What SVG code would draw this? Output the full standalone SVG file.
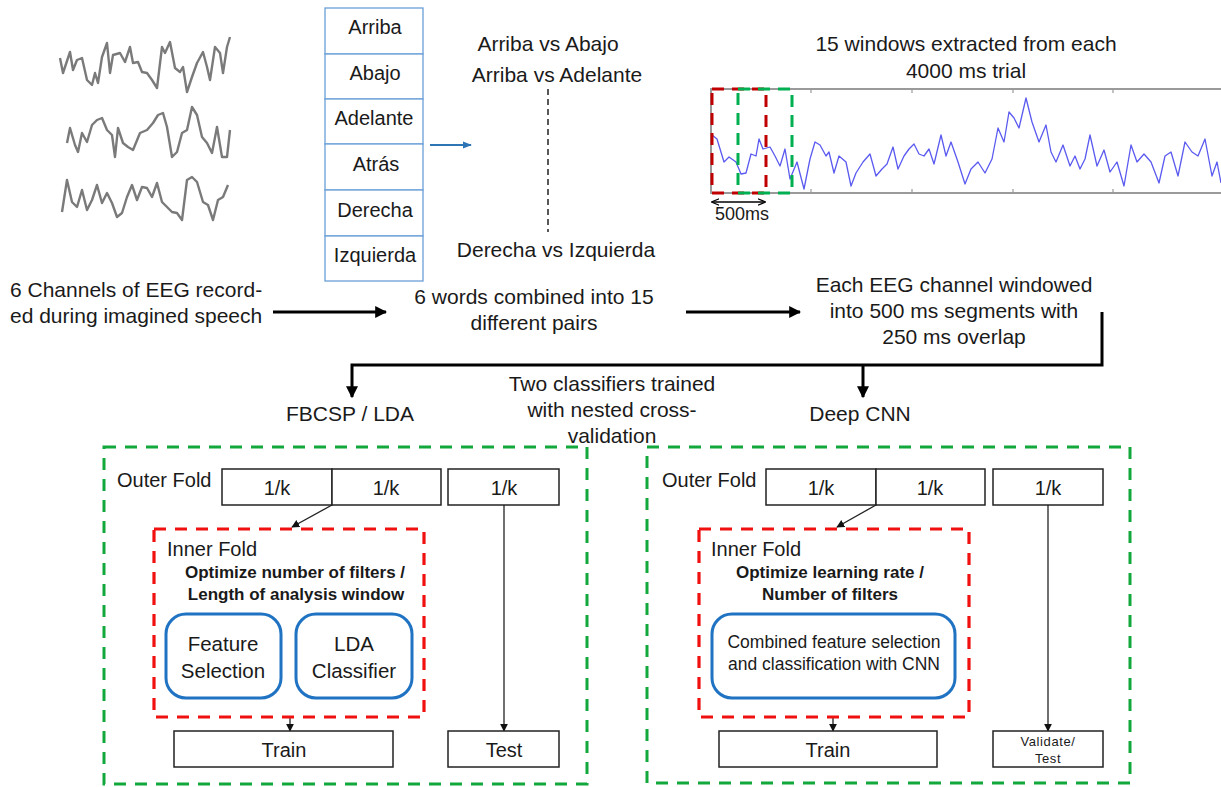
<svg xmlns="http://www.w3.org/2000/svg" width="1221" height="787" viewBox="0 0 1221 787">
<defs>
<style>
text{font-family:"Liberation Sans",Arial,sans-serif;fill:#1a1a1a}
.t19{font-size:21px}
.t18{font-size:20px}
.t20{font-size:20.5px}
.mid{text-anchor:middle}
.bold{font-weight:bold;font-size:17px}
.cell{fill:#fff;stroke:#6a9fd8;stroke-width:1.3}
.box{fill:#fff;stroke:#222;stroke-width:1.5}
.green{fill:none;stroke:#12a83c;stroke-width:3;stroke-dasharray:12 9}
.red{fill:none;stroke:#f01010;stroke-width:3.2;stroke-dasharray:12 9}
.rbox{fill:#fff;stroke:#1f73c2;stroke-width:3}
.eeg{fill:none;stroke:#7a7a7a;stroke-width:2.4;stroke-linejoin:round}
.thick{fill:none;stroke:#000;stroke-width:3}
.thin{fill:none;stroke:#222;stroke-width:1.3}
</style>
<marker id="ah" viewBox="0 0 10 10" refX="9" refY="5" markerWidth="4" markerHeight="4" orient="auto"><path d="M0,0 L10,5 L0,10 z" fill="#000"/></marker>
<marker id="as" viewBox="0 0 10 10" refX="9" refY="5" markerWidth="8" markerHeight="8" orient="auto" markerUnits="userSpaceOnUse"><path d="M0,0 L10,5 L0,10 z" fill="#111"/></marker>
<marker id="ab" viewBox="0 0 10 10" refX="9" refY="5" markerWidth="9" markerHeight="9" orient="auto" markerUnits="userSpaceOnUse"><path d="M0,1 L10,5 L0,9 z" fill="#2e75b6"/></marker>
<marker id="dm" viewBox="0 0 10 10" refX="9" refY="5" markerWidth="8" markerHeight="8" orient="auto-start-reverse" markerUnits="userSpaceOnUse"><path d="M0,1 L10,5 L0,9" fill="none" stroke="#000" stroke-width="1.6"/></marker>
</defs>

<g id="eeg-traces">
<polyline class="eeg" points="60,58 63,73 70,52 73,70 77,60 82,58 87,80 92,85 95,73 98,83 102,57 107,43 110,73 113,55 120,53 125,62 130,47 133,63 138,62 142,72 147,73 152,80 157,88 162,47 165,53 170,42 175,68 180,72 183,67 187,92 192,77 197,63 203,52 207,67 210,80 215,47 220,53 223,73 227,47 230,37"/>
<polyline class="eeg" points="67,143 70,128 75,145 78,152 82,133 87,142 92,125 97,120 102,118 107,130 112,135 115,157 118,128 123,143 128,147 133,150 140,133 147,130 153,123 158,115 163,113 167,127 172,157 177,152 182,133 187,130 192,107 197,115 202,137 207,143 212,153 217,127 222,157 227,157 230,130"/>
<polyline class="eeg" points="62,212 67,180 72,202 77,207 82,190 87,210 92,200 97,185 102,203 107,193 112,203 117,217 122,213 127,197 132,185 137,200 142,187 147,188 152,197 157,183 162,202 167,207 172,212 177,213 182,220 187,180 192,177 197,182 203,202 208,205 213,220 218,200 223,197 228,185"/>
</g>

<g id="word-list">
<rect class="cell" x="325" y="8" width="98" height="46"/>
<rect class="cell" x="325" y="54" width="98" height="45"/>
<rect class="cell" x="325" y="99" width="98" height="45"/>
<rect class="cell" x="325" y="144" width="98" height="46"/>
<rect class="cell" x="325" y="190" width="98" height="46"/>
<rect class="cell" x="325" y="236" width="98" height="45"/>
<text class="t18 mid" x="375" y="34">Arriba</text>
<text class="t18 mid" x="375" y="80">Abajo</text>
<text class="t18 mid" x="374" y="125">Adelante</text>
<text class="t18 mid" x="376" y="171">Atrás</text>
<text class="t18 mid" x="375" y="217">Derecha</text>
<text class="t18 mid" x="375" y="262">Izquierda</text>
</g>

<g id="pairs">
<text class="t19 mid" x="548" y="51">Arriba vs Abajo</text>
<text class="t19 mid" x="557" y="82">Arriba vs Adelante</text>
<line x1="548" y1="89" x2="548" y2="232" stroke="#222" stroke-width="1.5" stroke-dasharray="6 4"/>
<text class="t19 mid" x="556" y="257">Derecha vs Izquierda</text>
</g>

<g id="window-plot">
<text class="t19 mid" x="966" y="51">15 windows extracted from each</text>
<text class="t19 mid" x="966" y="78">4000 ms trial</text>
<rect x="711" y="89" width="515" height="104" fill="#fff" stroke="#9a9a9a" stroke-width="2"/>
<g stroke="#9a9a9a" stroke-width="1.2">
<line x1="811" y1="89" x2="811" y2="93"/><line x1="912" y1="89" x2="912" y2="93"/><line x1="1013" y1="89" x2="1013" y2="93"/><line x1="1113" y1="89" x2="1113" y2="93"/>
<line x1="811" y1="193" x2="811" y2="189"/><line x1="912" y1="193" x2="912" y2="189"/><line x1="1013" y1="193" x2="1013" y2="189"/><line x1="1113" y1="193" x2="1113" y2="189"/>
</g>
<polyline fill="none" stroke="#5a5af0" stroke-width="1.3" stroke-linejoin="round" points="712,135 717,139 724,162 729,157 736,162 741,174 746,173 751,154 756,156 759,139 763,149 770,147 775,156 780,166 785,149 790,179 797,162 804,189 810,159 815,142 820,145 826,156 829,152 834,173 839,156 846,162 851,186 856,173 863,162 870,154 876,176 882,169 887,164 893,147 898,169 904,156 909,149 914,144 919,154 924,156 929,149 934,164 941,135 946,156 951,142 958,162 965,184 971,169 978,162 985,173 992,159 998,128 1004,142 1009,112 1014,118 1019,128 1026,98 1032,122 1039,142 1046,125 1051,152 1056,162 1063,145 1070,166 1075,156 1080,169 1085,159 1090,135 1097,166 1104,150 1110,172 1117,162 1124,186 1131,145 1137,162 1144,154 1151,162 1159,183 1165,156 1171,152 1178,176 1185,142 1192,152 1198,156 1205,139 1212,176 1217,162 1221,183"/>
<rect x="712" y="89" width="54" height="104" fill="none" stroke="#c00000" stroke-width="3" stroke-dasharray="12 8"/>
<rect x="738" y="89" width="54" height="104" fill="none" stroke="#00b050" stroke-width="3" stroke-dasharray="12 8"/>
<line x1="712" y1="202" x2="765" y2="202" stroke="#000" stroke-width="1.5" marker-start="url(#dm)" marker-end="url(#dm)"/>
<text class="mid" x="742" y="220" style="font-size:18px">500ms</text>
</g>

<g id="step1">
<text class="t19" x="10" y="297">6 Channels of EEG record-</text>
<text class="t19" x="10" y="323">ed during imagined speech</text>
</g>
<g id="step2">
<text class="t19 mid" x="534" y="304">6 words combined into 15</text>
<text class="t19 mid" x="534" y="330">different pairs</text>
</g>
<g id="step3">
<text class="t19 mid" x="954" y="292">Each EEG channel windowed</text>
<text class="t19 mid" x="954" y="318">into 500 ms segments with</text>
<text class="t19 mid" x="954" y="344">250 ms overlap</text>
</g>
<g id="classifiers">
<text class="t19 mid" x="612" y="391">Two classifiers trained</text>
<text class="t19 mid" x="612" y="417">with nested cross-</text>
<text class="t19 mid" x="612" y="443">validation</text>
<text class="t19 mid" x="350" y="421">FBCSP / LDA</text>
<text class="t19 mid" x="860" y="421">Deep CNN</text>
</g>

<g id="connectors">
<line x1="430" y1="145" x2="471" y2="145" stroke="#2e75b6" stroke-width="1.8" marker-end="url(#ab)"/>
<line class="thick" x1="273" y1="312" x2="386" y2="312" marker-end="url(#ah)"/>
<line class="thick" x1="686" y1="312" x2="800" y2="312" marker-end="url(#ah)"/>
<polyline class="thick" points="1102,312 1102,365 352,365 352,397" marker-end="url(#ah)"/>
<line class="thick" x1="863" y1="365" x2="863" y2="397" marker-end="url(#ah)"/>
<line class="thin" x1="332" y1="505" x2="292" y2="527" marker-end="url(#as)"/>
<line class="thin" x1="504" y1="505" x2="504" y2="731" marker-end="url(#as)"/>
<line class="thin" x1="290" y1="717" x2="290" y2="731" marker-end="url(#as)"/>
<line class="thin" x1="876" y1="505" x2="837" y2="527" marker-end="url(#as)"/>
<line class="thin" x1="1048" y1="505" x2="1048" y2="731" marker-end="url(#as)"/>
<line class="thin" x1="833" y1="717" x2="833" y2="731" marker-end="url(#as)"/>
</g>

<g id="fbcsp-panel">
<rect class="green" x="104" y="447" width="483" height="337"/>
<text class="t18" x="117" y="487">Outer Fold</text>
<rect class="box" x="222" y="469" width="110" height="36"/>
<rect class="box" x="332" y="469" width="109" height="36"/>
<rect class="box" x="448" y="469" width="111" height="36"/>
<text class="t18 mid" x="277" y="495">1/k</text>
<text class="t18 mid" x="386" y="495">1/k</text>
<text class="t18 mid" x="504" y="495">1/k</text>
<rect class="red" x="154" y="529" width="270" height="188"/>
<text class="t18" x="167" y="556">Inner Fold</text>
<text class="bold mid" x="295" y="578">Optimize number of filters /</text>
<text class="bold mid" x="296" y="600">Length of analysis window</text>
<rect class="rbox" x="166" y="614" width="115" height="84" rx="20"/>
<text class="t20 mid" x="223" y="651">Feature</text>
<text class="t20 mid" x="223" y="678">Selection</text>
<rect class="rbox" x="296" y="614" width="116" height="84" rx="20"/>
<text class="t20 mid" x="354" y="651">LDA</text>
<text class="t20 mid" x="354" y="678">Classifier</text>
<rect class="box" x="174" y="731" width="219" height="36"/>
<text class="t18 mid" x="284" y="757">Train</text>
<rect class="box" x="448" y="731" width="111" height="36"/>
<text class="t18 mid" x="504" y="757">Test</text>
</g>

<g id="cnn-panel">
<rect class="green" x="647" y="447" width="483" height="336"/>
<text class="t18" x="662" y="487">Outer Fold</text>
<rect class="box" x="766" y="469" width="110" height="36"/>
<rect class="box" x="876" y="469" width="109" height="36"/>
<rect class="box" x="993" y="469" width="110" height="36"/>
<text class="t18 mid" x="821" y="495">1/k</text>
<text class="t18 mid" x="930" y="495">1/k</text>
<text class="t18 mid" x="1048" y="495">1/k</text>
<rect class="red" x="699" y="529" width="270" height="188"/>
<text class="t18" x="711" y="556">Inner Fold</text>
<text class="bold mid" x="830" y="578">Optimize learning rate /</text>
<text class="bold mid" x="830" y="600">Number of filters</text>
<rect class="rbox" x="712" y="614" width="243" height="84" rx="20"/>
<text class="mid" x="834" y="648" style="font-size:17.5px">Combined feature selection</text>
<text class="mid" x="834" y="670" style="font-size:17.5px">and classification with CNN</text>
<rect class="box" x="719" y="731" width="218" height="36"/>
<text class="t18 mid" x="828" y="757">Train</text>
<rect class="box" x="993" y="731" width="110" height="36"/>
<text class="mid" x="1048" y="746" style="font-size:13px;letter-spacing:0.6px">Validate/</text>
<text class="mid" x="1048" y="763" style="font-size:13px;letter-spacing:0.6px">Test</text>
</g>
</svg>
